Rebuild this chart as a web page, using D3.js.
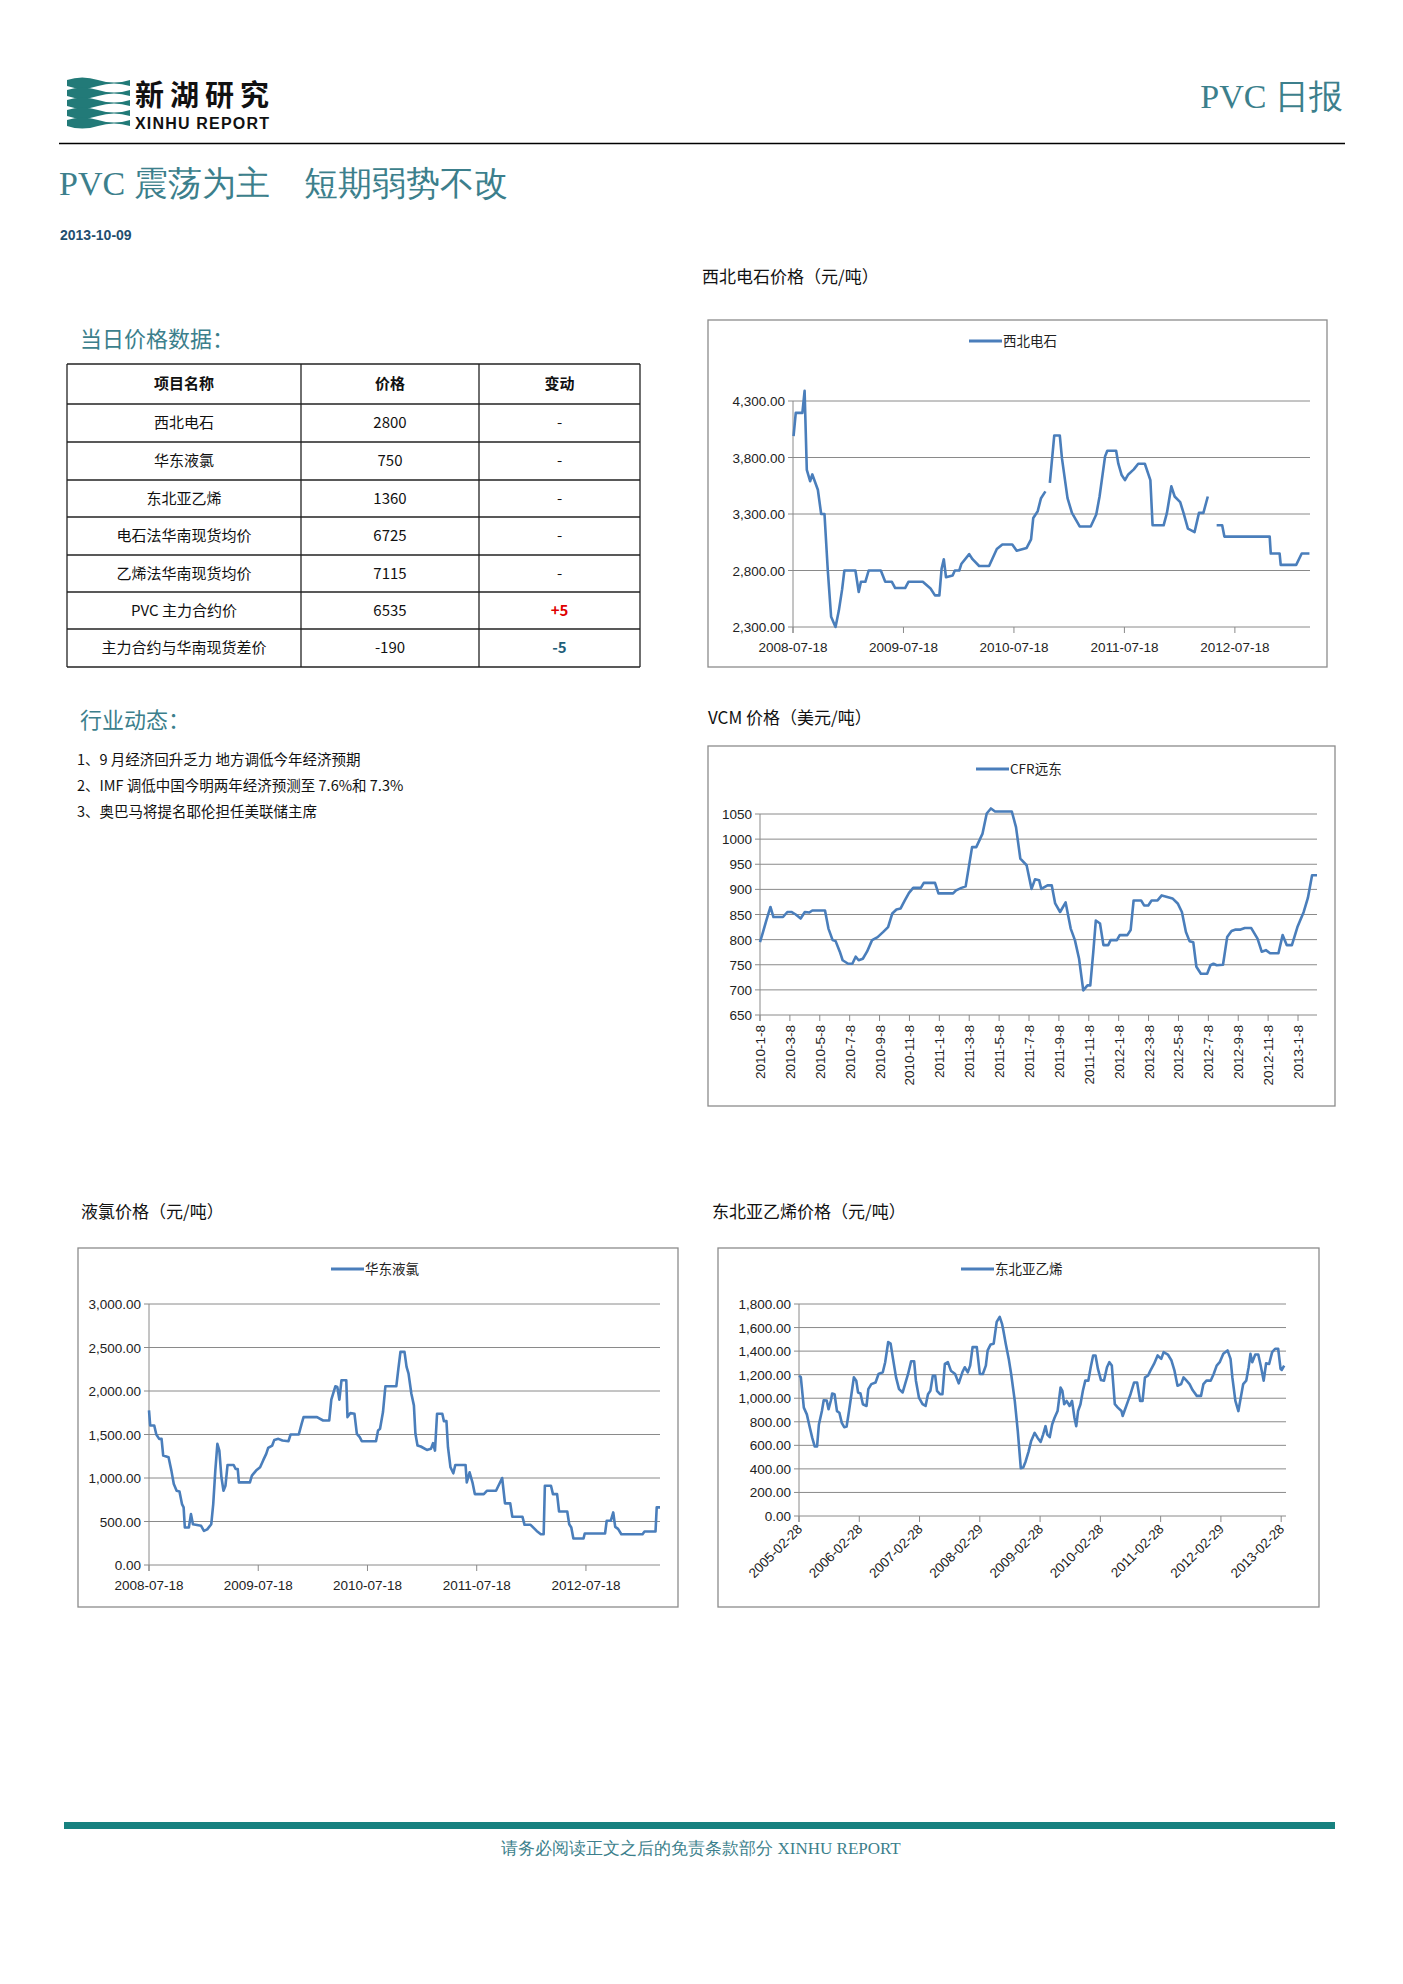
<!DOCTYPE html>
<html><head><meta charset="utf-8">
<script src="https://cdn.jsdelivr.net/npm/d3@7"></script>
<style>body{margin:0;background:#fff}</style></head>
<body><svg id="pg" width="1403" height="1984"></svg>
<script>
// ---------- data ----------
const tableHeader = ["项目名称","价格","变动"];
const tableNames = ["西北电石","华东液氯","东北亚乙烯","电石法华南现货均价","乙烯法华南现货均价","PVC 主力合约价","主力合约与华南现货差价"];
const tablePrices = ["2800","750","1360","6725","7115","6535","-190"];
const tableChanges = ["-","-","-","-","-","+5","-5"];
const newsItems = ["1、9 月经济回升乏力 地方调低今年经济预期","2、IMF 调低中国今明两年经济预测至 7.6%和 7.3%","3、奥巴马将提名耶伦担任美联储主席"];

// chart 1: 西北电石 (decimal year, value; null = gap)
const c1Years = [2008.55,2008.57,2008.63,2008.65,2008.67,2008.70,2008.72,2008.77,2008.80,2008.83,2008.86,2008.89,2008.93,2008.96,2008.99,2009.01,2009.11,2009.14,2009.16,2009.20,2009.23,2009.34,2009.38,2009.44,2009.47,2009.56,2009.59,2009.72,2009.79,2009.83,2009.87,2009.89,2009.91,2009.93,2009.99,2010.01,2010.05,2010.07,2010.14,2010.17,2010.23,2010.32,2010.39,2010.44,2010.53,2010.57,2010.66,2010.70,2010.72,2010.76,2010.79,2010.83,2010.85,2010.87,2010.91,2010.96,2010.98,2011.03,2011.07,2011.14,2011.24,2011.29,2011.32,2011.37,2011.39,2011.47,2011.49,2011.52,2011.55,2011.58,2011.63,2011.67,2011.73,2011.78,2011.80,2011.90,2011.93,2011.97,2012.00,2012.05,2012.08,2012.12,2012.18,2012.22,2012.26,2012.30,2012.34,2012.38,2012.43,2012.45,2012.86,2012.87,2012.95,2012.96,2013.10,2013.15,2013.22];
const c1Values = [3990,4195,4195,4390,3690,3590,3650,3515,3300,3300,2800,2390,2300,2445,2635,2800,2800,2610,2700,2700,2800,2800,2700,2700,2645,2645,2700,2700,2640,2580,2580,2815,2900,2740,2755,2800,2800,2860,2945,2900,2840,2840,2990,3030,3030,2975,3000,3075,3265,3325,3440,3500,null,3575,3995,3995,3790,3440,3310,3190,3190,3295,3455,3810,3860,3860,3745,3645,3600,3650,3695,3745,3745,3600,3200,3200,3310,3545,3455,3405,3310,3170,3140,3310,3310,3455,null,3200,3200,3100,3100,2950,2950,2850,2850,2950,2950];
const c1Ticks = ["2008-07-18","2009-07-18","2010-07-18","2011-07-18","2012-07-18"];

// chart 2: CFR远东 (months since 2010-01-08, value)
const c2Months = [0,0.2,0.42,0.7,0.9,1.54,1.83,2.1,2.39,2.72,3.0,3.3,3.5,4.35,4.58,4.86,5.06,5.34,5.53,5.9,6.18,6.4,6.6,6.88,7.16,7.5,7.87,8.23,8.57,8.85,9.13,9.41,9.69,9.97,10.25,10.76,10.96,11.71,11.94,12.92,13.12,13.48,13.76,13.9,14.19,14.47,14.89,15.17,15.45,15.73,16.85,17.13,17.42,17.84,18.17,18.4,18.68,18.82,19.24,19.52,19.75,20.08,20.45,20.79,21.07,21.35,21.63,21.91,22.1,22.3,22.47,22.75,22.98,23.3,23.46,23.88,24.07,24.58,24.8,25.0,25.5,25.7,25.98,26.2,26.6,26.88,27.25,27.6,27.95,28.23,28.5,28.74,28.99,29.2,29.5,29.92,30.14,30.34,30.56,30.98,31.26,31.55,31.83,32.16,32.44,32.87,33.29,33.57,33.85,34.13,34.69,34.97,35.25,35.59,35.96,36.38,36.66,36.94,37.27];
const c2Values = [795,815,838,865,845,845,855,855,850,842,855,854,858,858,822,799,797,776,759,752,752,766,759,762,776,799,805,815,825,852,860,862,878,893,903,903,913,913,892,892,898,903,906,931,984,984,1011,1051,1061,1055,1055,1024,961,948,901,920,918,901,908,908,872,855,874,822,799,762,699,709,709,775,838,832,789,789,799,799,809,809,819,878,878,868,868,878,878,888,885,882,872,855,815,797,795,746,732,732,749,752,749,750,805,817,820,820,823,823,802,776,779,773,773,809,789,789,825,855,883,928,928];
const c2Ticks = ["2010-1-8","2010-3-8","2010-5-8","2010-7-8","2010-9-8","2010-11-8","2011-1-8","2011-3-8","2011-5-8","2011-7-8","2011-9-8","2011-11-8","2012-1-8","2012-3-8","2012-5-8","2012-7-8","2012-9-8","2012-11-8","2013-1-8"];

// chart 3: 华东液氯 (years since 2008-07-18, value)
const c3Years = [0,.011,.048,.067,.093,.115,.130,.179,.205,.227,.253,.279,.302,.317,.328,.365,.384,.402,.477,.503,.533,.570,.588,.607,.626,.644,.663,.682,.700,.719,.775,.793,.812,.823,.924,.942,.980,1.017,1.047,1.073,1.091,1.128,1.147,1.184,1.222,1.277,1.296,1.371,1.397,1.415,1.538,1.594,1.650,1.669,1.706,1.724,1.743,1.762,1.806,1.817,1.844,1.881,1.903,1.929,1.948,2.078,2.097,2.115,2.142,2.164,2.264,2.283,2.302,2.339,2.358,2.376,2.402,2.425,2.439,2.458,2.488,2.544,2.581,2.600,2.618,2.637,2.685,2.700,2.723,2.737,2.760,2.786,2.804,2.898,2.909,2.935,2.961,2.983,3.065,3.095,3.177,3.233,3.259,3.307,3.326,3.419,3.438,3.493,3.549,3.587,3.613,3.624,3.680,3.698,3.736,3.754,3.829,3.847,3.866,3.885,3.978,3.989,4.175,4.190,4.227,4.250,4.268,4.294,4.324,4.518,4.536,4.637,4.648,4.678];
const c3Values = [1777,1604,1604,1500,1450,1450,1258,1238,1085,931,854,846,700,662,431,431,585,469,450,392,410,469,700,1085,1392,1315,1008,854,912,1150,1150,1104,1104,950,950,1027,1085,1123,1208,1277,1346,1373,1438,1450,1431,1423,1500,1500,1623,1700,1700,1661,1661,1900,2054,2046,1900,2123,2123,1700,1746,1738,1508,1469,1423,1423,1546,1565,1758,2054,2054,2258,2450,2450,2277,2200,1969,1835,1508,1373,1362,1323,1335,1400,1315,1738,1738,1654,1654,1354,1123,1054,1150,1150,950,1065,950,815,815,854,854,1000,708,708,554,554,462,462,392,354,354,911,911,815,815,615,615,469,431,304,304,362,362,508,508,604,438,415,354,354,385,385,662,662];
const c3Ticks = ["2008-07-18","2009-07-18","2010-07-18","2011-07-18","2012-07-18"];

// chart 4: 东北亚乙烯 (years since 2005-02-28, value)
const c4Years = [0,.03,.08,.13,.18,.22,.26,.30,.33,.38,.41,.46,.49,.53,.55,.59,.63,.67,.71,.75,.79,.83,.87,.91,.95,.98,1.02,1.06,1.12,1.15,1.20,1.27,1.32,1.39,1.43,1.48,1.52,1.56,1.61,1.66,1.72,1.76,1.81,1.86,1.91,1.94,1.99,2.05,2.10,2.14,2.18,2.22,2.26,2.29,2.34,2.38,2.42,2.47,2.52,2.59,2.65,2.71,2.75,2.80,2.84,2.88,2.95,3.00,3.05,3.10,3.13,3.18,3.23,3.28,3.33,3.37,3.39,3.43,3.48,3.52,3.58,3.63,3.68,3.72,3.76,3.81,3.85,3.91,3.96,4.01,4.05,4.09,4.12,4.16,4.20,4.24,4.29,4.34,4.37,4.40,4.44,4.49,4.53,4.57,4.60,4.63,4.67,4.71,4.75,4.80,4.84,4.88,4.92,4.96,5.01,5.06,5.11,5.15,5.19,5.24,5.29,5.35,5.37,5.41,5.46,5.50,5.56,5.61,5.66,5.70,5.74,5.79,5.83,5.89,5.95,6.01,6.05,6.12,6.18,6.23,6.28,6.34,6.38,6.43,6.48,6.53,6.60,6.67,6.71,6.76,6.83,6.88,6.93,6.98,7.04,7.11,7.16,7.19,7.24,7.29,7.33,7.37,7.42,7.46,7.49,7.52,7.57,7.62,7.66,7.71,7.75,7.80,7.85,7.90,7.95,7.99,8.01,8.05];
const c4Values = [1191,1180,920,863,749,663,591,591,777,891,983,980,906,983,1040,1034,891,877,791,754,760,891,1034,1177,1149,1049,1040,949,934,1077,1120,1134,1206,1220,1306,1477,1463,1334,1177,1077,1049,1120,1206,1314,1314,1149,1006,949,934,1034,1063,1191,1191,1063,1034,1034,1291,1306,1234,1206,1126,1220,1263,1220,1277,1434,1434,1206,1206,1277,1406,1457,1463,1648,1691,1629,1577,1463,1334,1206,977,720,406,411,463,549,634,706,663,629,691,763,691,669,777,834,891,1091,1063,949,977,934,977,834,763,891,949,1063,1149,1149,1263,1363,1363,1249,1154,1149,1263,1306,1277,949,920,891,849,906,977,1034,1134,1134,977,977,1177,1191,1234,1291,1363,1334,1391,1371,1320,1234,1106,1120,1177,1149,1120,1069,1020,1020,1120,1149,1149,1206,1277,1306,1377,1406,1334,1177,977,891,1006,1120,1149,1263,1377,1306,1371,1371,1277,1149,1297,1291,1391,1420,1420,1249,1240,1277];
const c4Ticks = ["2005-02-28","2006-02-28","2007-02-28","2008-02-29","2009-02-28","2010-02-28","2011-02-28","2012-02-29","2013-02-28"];

// ---------- drawing ----------
const svg = d3.select("#pg");
const TEAL = "#3c7f8c", CJK = "'Noto Sans CJK SC','Noto Sans',sans-serif", SER = "'Liberation Serif','DejaVu Serif',serif";
const LINE = "#4a7ebb";

// logo
const logo = svg.append("g");
[0,1,2,3,4].forEach(i => {
  const y0 = 80 + i*10;
  logo.append("path").attr("d", `M67 ${y0} q15 -5 31 0 t32 0 v6 q-16 -5 -32 0 t-31 0 z`).attr("fill", "#227a78");
});
logo.append("text").attr("x",135).attr("y",106).attr("font-family",CJK).attr("font-weight","bold").attr("font-size",29).attr("fill","#111").attr("textLength",134).text("新湖研究");
logo.append("text").attr("x",135).attr("y",129).attr("font-family","'Liberation Sans',sans-serif").attr("font-weight","bold").attr("font-size",16).attr("fill","#111").attr("textLength",134).text("XINHU REPORT");
svg.append("text").attr("x",1343).attr("y",108).attr("text-anchor","end").attr("font-family",SER).attr("font-size",34).attr("fill",TEAL).text("PVC 日报");
svg.append("line").attr("x1",59).attr("x2",1345).attr("y1",143.5).attr("y2",143.5).attr("stroke","#000").attr("stroke-width",1.3);
svg.append("text").attr("x",59).attr("y",195).attr("font-family",SER).attr("font-size",34).attr("fill",TEAL).attr("xml:space","preserve").text("PVC 震荡为主　短期弱势不改");
svg.append("text").attr("x",60).attr("y",240).attr("font-family","'Liberation Sans',sans-serif").attr("font-weight","bold").attr("font-size",14).attr("fill","#1f4e6e").text("2013-10-09");

function heading(x,y,t,size,color){ svg.append("text").attr("x",x).attr("y",y).attr("font-family",CJK).attr("font-size",size).attr("fill",color).text(t); }
heading(80,347,"当日价格数据：",22,TEAL);
heading(80,728,"行业动态：",22,TEAL);
heading(702,283,"西北电石价格（元/吨）",17,"#111");
heading(708,724,"VCM 价格（美元/吨）",17,"#111");
heading(81,1218,"液氯价格（元/吨）",17,"#111");
heading(712,1218,"东北亚乙烯价格（元/吨）",17,"#111");

// table
const colX = [67,301,479,640];
const rowY = [364,404,442,480,517,555,592,629,667];
const tg = svg.append("g");
rowY.forEach(y => tg.append("line").attr("x1",67).attr("x2",640).attr("y1",y).attr("y2",y).attr("stroke","#222").attr("stroke-width",1.3));
colX.forEach(x => tg.append("line").attr("x1",x).attr("x2",x).attr("y1",364).attr("y2",667).attr("stroke","#222").attr("stroke-width",1.3));
const rows = [tableHeader].concat(tableNames.map((n,i)=>[n,tablePrices[i],tableChanges[i]]));
rows.forEach((r,ri) => r.forEach((c,ci) => {
  let col = "#111";
  if (ri>0 && ci==2 && c=="+5") col = "#e00000";
  if (ri>0 && ci==2 && c=="-5") col = "#1f5f7a";
  tg.append("text").attr("x",(colX[ci]+colX[ci+1])/2).attr("y",(rowY[ri]+rowY[ri+1])/2+5)
    .attr("text-anchor","middle").attr("font-family",CJK).attr("font-size",15)
    .attr("font-weight", ri==0 || (ci==2 && c.length>1) ? "bold":"normal").attr("fill",col).text(c);
}));
newsItems.forEach((t,i)=> svg.append("text").attr("x",77).attr("y",765+i*26).attr("font-family",CJK).attr("font-size",14.5).attr("fill","#111").text(t));

// generic chart
function chart(o){
  const g = svg.append("g");
  g.append("rect").attr("x",o.box[0]).attr("y",o.box[1]).attr("width",o.box[2]-o.box[0]).attr("height",o.box[3]-o.box[1]).attr("fill","#fff").attr("stroke","#8c8c8c").attr("stroke-width",1.3);
  const x = d3.scaleLinear().domain(o.xd).range([o.px0,o.px1]);
  const y = d3.scaleLinear().domain(o.yd).range([o.py0,o.py1]);
  o.yTicks.forEach(v => {
    g.append("line").attr("x1",o.px0-5).attr("x2",o.px1).attr("y1",y(v)).attr("y2",y(v)).attr("stroke","#8a8a8a").attr("stroke-width",1);
    g.append("text").attr("x",o.px0-8).attr("y",y(v)+5).attr("text-anchor","end").attr("font-family","'Liberation Sans',sans-serif").attr("font-size",13.5).attr("fill","#222").text(o.yFmt(v));
  });
  g.append("line").attr("x1",o.px0).attr("x2",o.px0).attr("y1",y(o.yd[1])).attr("y2",y(o.yd[0])+6).attr("stroke","#8a8a8a");
  o.xTickPos.forEach((p,i) => {
    g.append("line").attr("x1",x(p)).attr("x2",x(p)).attr("y1",y(o.yd[0])).attr("y2",y(o.yd[0])+6).attr("stroke","#8a8a8a");
    const t = g.append("text").attr("font-family","'Liberation Sans',sans-serif").attr("font-size",13.5).attr("fill","#222").text(o.xLabels[i]);
    if (o.rot==90) t.attr("transform",`translate(${x(p)+5},${y(o.yd[0])+10}) rotate(-90)`).attr("text-anchor","end");
    else if (o.rot==45) t.attr("transform",`translate(${x(p)+4},${y(o.yd[0])+14}) rotate(-45)`).attr("text-anchor","end");
    else t.attr("x",x(p)).attr("y",y(o.yd[0])+25).attr("text-anchor","middle");
  });
  const pts = o.xs.map((v,i)=>[v,o.ys[i]]);
  g.append("path").datum(pts).attr("fill","none").attr("stroke",LINE).attr("stroke-width",2.6).attr("stroke-linejoin","round")
    .attr("d", d3.line().defined(d=>d[1]!=null).x(d=>x(d[0])).y(d=>y(d[1]))(pts));
  const lx = o.leg[0], ly = o.leg[1];
  g.append("line").attr("x1",lx).attr("x2",lx+33).attr("y1",ly).attr("y2",ly).attr("stroke",LINE).attr("stroke-width",3);
  g.append("text").attr("x",lx+34).attr("y",ly+5).attr("font-family",CJK).attr("font-size",13.5).attr("fill","#222").text(o.name);
}
const f2 = d3.format(",.2f");
chart({box:[708,320,1327,667],px0:793,px1:1310,py0:627,py1:401,xd:[2008.545,2013.225],yd:[2300,4300],
  yTicks:[2300,2800,3300,3800,4300],yFmt:f2,xTickPos:[2008.545,2009.545,2010.545,2011.545,2012.545],xLabels:c1Ticks,
  xs:c1Years,ys:c1Values,leg:[969,341],name:"西北电石"});
chart({box:[708,746,1335,1106],px0:760,px1:1317,py0:1015,py1:814,xd:[0,37.27],yd:[650,1050],
  yTicks:[650,700,750,800,850,900,950,1000,1050],yFmt:d3.format("d"),xTickPos:c2Ticks.map((_,i)=>i*2),xLabels:c2Ticks,rot:90,
  xs:c2Months,ys:c2Values,leg:[976,769],name:"CFR远东"});
chart({box:[78,1248,678,1607],px0:149,px1:660,py0:1565,py1:1304,xd:[0,4.678],yd:[0,3000],
  yTicks:[0,500,1000,1500,2000,2500,3000],yFmt:f2,xTickPos:[0,1,2,3,4],xLabels:c3Ticks,
  xs:c3Years,ys:c3Values,leg:[331,1269],name:"华东液氯"});
chart({box:[718,1248,1319,1607],px0:799,px1:1286,py0:1516,py1:1304,xd:[0,8.08],yd:[0,1800],
  yTicks:[0,200,400,600,800,1000,1200,1400,1600,1800],yFmt:f2,xTickPos:[0,1,2,3,4,5,6,7,8],xLabels:c4Ticks,rot:45,
  xs:c4Years,ys:c4Values,leg:[961,1269],name:"东北亚乙烯"});

// footer
svg.append("rect").attr("x",64).attr("y",1822).attr("width",1271).attr("height",7).attr("fill","#17817f");
svg.append("text").attr("x",701).attr("y",1854).attr("text-anchor","middle").attr("font-family",SER).attr("font-size",17).attr("fill",TEAL).text("请务必阅读正文之后的免责条款部分 XINHU REPORT");
</script></body></html>
